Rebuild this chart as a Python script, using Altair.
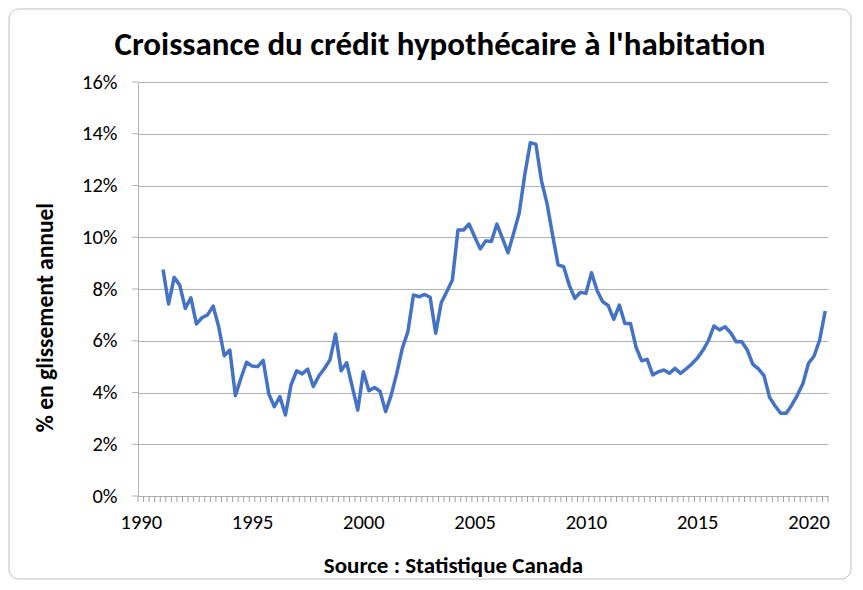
import altair as alt
import pandas as pd

# Quarterly year-over-year growth of residential mortgage credit (%), 1991T1 - 2020T4
start_year = 1991
growth_1990s = [8.75, 7.42, 8.45, 8.15,
                7.25, 7.66, 6.65, 6.89,
                7.00, 7.34, 6.54, 5.42,
                5.64, 3.88, 4.55, 5.17,
                5.02, 5.00, 5.24, 3.95,
                3.45, 3.84, 3.13, 4.29,
                4.84, 4.72, 4.90, 4.23,
                4.64, 4.93, 5.26, 6.26,
                4.84, 5.15, 4.23, 3.32]
growth_2000s = [4.80, 4.07, 4.19, 4.05,
                3.26, 3.90, 4.74, 5.71,
                6.35, 7.77, 7.70, 7.79,
                7.68, 6.29, 7.47, 7.90,
                8.35, 10.28, 10.28, 10.51,
                10.02, 9.55, 9.86, 9.84,
                10.51, 9.96, 9.40, 10.15,
                10.93, 12.41, 13.65, 13.60,
                12.19, 11.31, 10.09, 8.93,
                8.86, 8.15, 7.64, 7.87]
growth_2010s = [7.83, 8.63, 7.94, 7.51,
                7.36, 6.83, 7.38, 6.67,
                6.67, 5.75, 5.23, 5.28,
                4.68, 4.80, 4.87, 4.74,
                4.93, 4.74, 4.91, 5.10,
                5.32, 5.62, 6.00, 6.57,
                6.42, 6.54, 6.31, 5.96,
                5.96, 5.64, 5.09, 4.91,
                4.65, 3.81, 3.48, 3.20,
                3.20, 3.52, 3.90, 4.35,
                5.13, 5.41, 6.03, 7.15]

y_ticks = [0, 2, 4, 6, 8, 10, 12, 14, 16]
x_label_years = [1990, 1995, 2000, 2005, 2010, 2015, 2020]
x_first_year, x_last_year = 1990, 2021

values = growth_1990s + growth_2000s + growth_2010s
periods = [start_year + i / 4 + 0.125 for i in range(len(values))]
df = pd.DataFrame({"t": periods, "v": values})

quarter_edges = [x_first_year + k / 4 for k in range((x_last_year - x_first_year) * 4 + 1)]
df_edges = pd.DataFrame({"t": quarter_edges})
df_yt = pd.DataFrame({"v": y_ticks})
x_label_pos = [y + 0.125 for y in x_label_years]

FONT = "Carlito, Lato, sans-serif"
GRID = "#b0b0b0"

x_scale = alt.Scale(domain=[x_first_year, x_last_year], nice=False, zero=False)
y_scale = alt.Scale(domain=[0, 16], nice=False)

line = alt.Chart(df).mark_line(color="#4472C4", strokeWidth=3.5, strokeJoin="round").encode(
    x=alt.X("t:Q", scale=x_scale,
            axis=alt.Axis(values=x_label_pos,
                          labelExpr="floor(datum.value)",
                          labelOverlap=False, labelFlush=False, labelPadding=16,
                          labelFont=FONT, labelFontSize=20.5, labelColor="#000000",
                          ticks=False, domainColor=GRID, grid=False,
                          title="Source : Statistique Canada",
                          titleFont=FONT, titleFontSize=23, titleFontWeight="bold",
                          titleColor="#000000", titleX=315, titleY=69,
                          titleAnchor="middle", titleAlign="center", titleBaseline="middle")),
    y=alt.Y("v:Q", scale=y_scale,
            axis=alt.Axis(values=y_ticks, labelExpr="datum.value + '%'",
                          labelFont=FONT, labelFontSize=20.5, labelColor="#000000",
                          labelPadding=21, ticks=False,
                          domainColor=GRID, gridColor=GRID, gridWidth=1,
                          title="% en glissement annuel",
                          titleFont=FONT, titleFontSize=23.5, titleFontWeight="bold",
                          titleColor="#000000", titleAngle=-90, titleX=-93, titleY=235,
                          titleAlign="center", titleBaseline="middle")),
)

x_ticks = alt.Chart(df_edges).mark_rule(color="#a0a0a0", strokeWidth=1).encode(
    x=alt.X("t:Q", scale=x_scale), y=alt.value(414), y2=alt.value(420)
)
y_tick_marks = alt.Chart(df_yt).mark_rule(color=GRID, strokeWidth=1).encode(
    y=alt.Y("v:Q", scale=y_scale), x=alt.value(-6), x2=alt.value(0)
)

title = alt.Chart(alt.Data(values=[{"label": "Croissance du crédit hypothécaire à l'habitation"}])).mark_text(
    font=FONT, fontSize=33, fontWeight="bold", color="#000000", align="center", baseline="middle"
).encode(text="label:N", x=alt.value(302), y=alt.value(-37))

frame = alt.Chart(alt.Data(values=[{"f": 1}])).mark_rect(
    fill="transparent", stroke="#bfbfbf", strokeWidth=1, cornerRadius=10
).encode(x=alt.value(-129), x2=alt.value(713), y=alt.value(-73), y2=alt.value(497))

chart = alt.layer(frame, x_ticks, y_tick_marks, line, title).properties(
    width=690, height=414,
    autosize=alt.AutoSizeParams(type="none"),
    padding={"left": 130, "top": 74, "right": 27, "bottom": 86},
    background="white",
).configure_view(stroke=None)

chart.save("out.html", embed_options={"renderer": "svg", "actions": False})
